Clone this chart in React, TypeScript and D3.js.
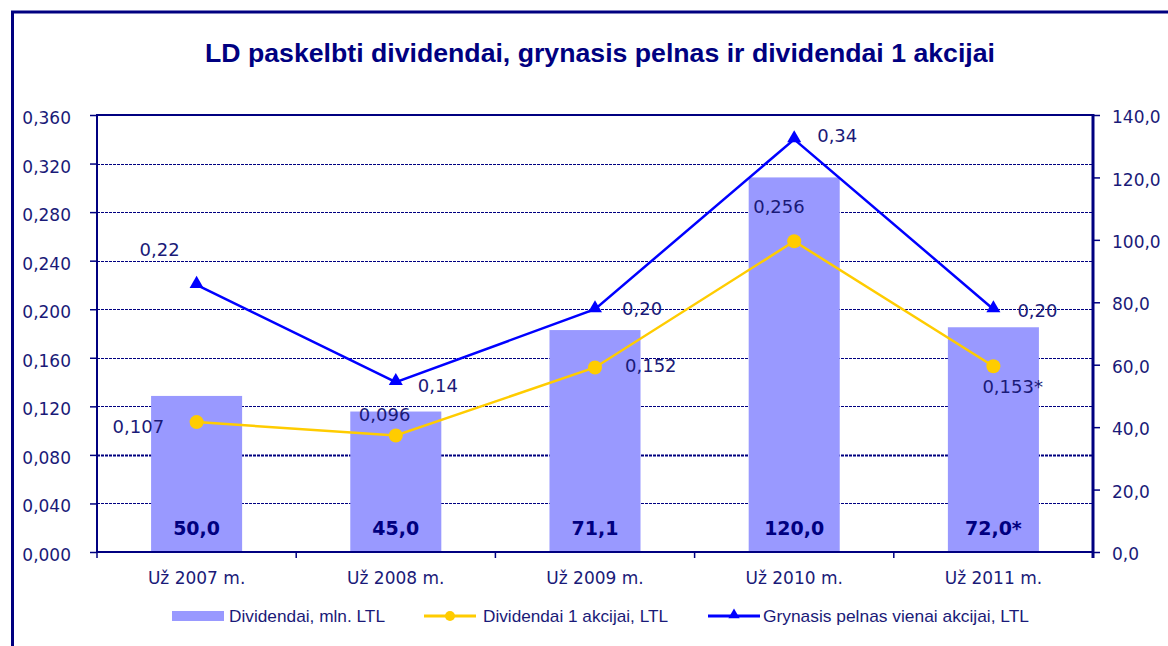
import React, { useEffect, useRef } from 'react';
import * as d3 from 'd3';

const categories = ['Už 2007 m.', 'Už 2008 m.', 'Už 2009 m.', 'Už 2010 m.', 'Už 2011 m.'];
const dividendsMln = [50.0, 45.0, 71.1, 120.0, 72.0];
const dividendsMlnLabels = ['50,0', '45,0', '71,1', '120,0', '72,0*'];
const dividendPerShare = [0.107, 0.096, 0.152, 0.256, 0.153];
const dividendPerShareLabels = ['0,107', '0,096', '0,152', '0,256', '0,153*'];
const profitPerShare = [0.22, 0.14, 0.2, 0.34, 0.2];
const profitPerShareLabels = ['0,22', '0,14', '0,20', '0,34', '0,20'];
const leftTicks = [0, 0.04, 0.08, 0.12, 0.16, 0.2, 0.24, 0.28, 0.32, 0.36];
const rightTicks = [0, 20, 40, 60, 80, 100, 120, 140];
const legendLabels = ['Dividendai, mln. LTL', 'Dividendai 1 akcijai, LTL', 'Grynasis pelnas vienai akcijai, LTL'];

const W = 1168;
const H = 646;
const NAVY = '#000080';
const TEXT = '#1a1a78';

const App = () => {
  const ref = useRef<SVGSVGElement>(null);

  useEffect(() => {
    const svg = d3.select(ref.current);
    svg.selectAll('*').remove();

    const left = 97, right = 1093, top = 115, bottom = 552;

    const x = d3.scaleBand().domain(categories).range([left, right]).paddingInner(0.543).paddingOuter(0.2715);
    const xc = (i: number) => (x(categories[i]) as number) + x.bandwidth() / 2;
    const yL = d3.scaleLinear().domain([0, 0.36]).range([bottom, top]);
    const yR = d3.scaleLinear().domain([0, 140]).range([bottom, top]);

    // outer frame (only top and left visible)
    svg.append('rect').attr('x', 12.5).attr('y', 12).attr('width', W).attr('height', H)
      .attr('fill', 'none').attr('stroke', NAVY).attr('stroke-width', 3);

    svg.append('text').attr('x', 600).attr('y', 62).attr('text-anchor', 'middle')
      .attr('font-family', 'Liberation Sans, Arial, sans-serif').attr('font-weight', 'bold')
      .attr('font-size', 25).attr('fill', NAVY)
      .attr('textLength', 790).attr('lengthAdjust', 'spacingAndGlyphs')
      .text('LD paskelbti dividendai, grynasis pelnas ir dividendai 1 akcijai');

    // gridlines
    svg.append('g').selectAll('line').data(leftTicks.slice(1, -1)).enter().append('line')
      .attr('x1', left).attr('x2', right)
      .attr('y1', d => Math.round(yL(d)) + 0.5).attr('y2', d => Math.round(yL(d)) + 0.5)
      .attr('stroke', NAVY).attr('stroke-width', (d, i) => (i === 1 ? 2 : 1))
      .attr('stroke-dasharray', '3,1');

    // bars
    svg.append('g').selectAll('rect').data(dividendsMln).enter().append('rect')
      .attr('x', (d, i) => x(categories[i]) as number)
      .attr('width', x.bandwidth())
      .attr('y', d => yR(d)).attr('height', d => bottom - yR(d))
      .attr('fill', '#9999FF');

    // plot border
    svg.append('rect').attr('x', left).attr('y', top).attr('width', right - left).attr('height', bottom - top)
      .attr('fill', 'none').attr('stroke', NAVY).attr('stroke-width', 2);

    const tickFont = 'DejaVu Sans, Verdana, sans-serif';

    // left axis
    const la = svg.append('g').attr('transform', `translate(${left},0)`)
      .call(d3.axisLeft(yL).tickValues(leftTicks).tickSize(7).tickPadding(19)
        .tickFormat(d => d3.format('.3f')(d as number).replace('.', ',')));
    la.select('.domain').remove();
    la.selectAll('line').attr('stroke', NAVY).attr('stroke-width', 1.5);
    la.selectAll('text').attr('fill', TEXT).attr('font-size', 17)
      .attr('font-family', tickFont).attr('dy', '0.5em');

    // right axis
    const ra = svg.append('g').attr('transform', `translate(${right},0)`)
      .call(d3.axisRight(yR).tickValues(rightTicks).tickSize(7).tickPadding(12)
        .tickFormat(d => d3.format('.1f')(d as number).replace('.', ',')));
    ra.select('.domain').remove();
    ra.selectAll('line').attr('stroke', NAVY).attr('stroke-width', 1.5);
    ra.selectAll('text').attr('fill', TEXT).attr('font-size', 17)
      .attr('font-family', tickFont).attr('dy', '0.45em');
    svg.append('line').attr('x1', right).attr('x2', right).attr('y1', top - 1).attr('y2', bottom + 6)
      .attr('stroke', NAVY).attr('stroke-width', 3);

    // bottom axis ticks between categories
    const xa = svg.append('g').attr('transform', `translate(0,${bottom})`);
    xa.selectAll('line').data(d3.range(categories.length + 1)).enter().append('line')
      .attr('x1', i => left + i * (right - left) / categories.length)
      .attr('x2', i => left + i * (right - left) / categories.length)
      .attr('y1', 0).attr('y2', 6).attr('stroke', NAVY).attr('stroke-width', 1.5);
    xa.selectAll('text').data(categories).enter().append('text')
      .attr('x', (d, i) => xc(i)).attr('y', 32).attr('text-anchor', 'middle')
      .attr('font-family', tickFont).attr('font-size', 17).attr('fill', TEXT)
      .text(d => d);

    // bar labels
    svg.append('g').selectAll('text').data(dividendsMlnLabels).enter().append('text')
      .attr('x', (d, i) => xc(i)).attr('y', 535).attr('text-anchor', 'middle')
      .attr('font-family', tickFont).attr('font-weight', 'bold')
      .attr('font-size', 19).attr('fill', NAVY).text(d => d);

    // lines
    const lineL = d3.line<number>().x((d, i) => xc(i)).y(d => yL(d));
    svg.append('path').attr('d', lineL(dividendPerShare)).attr('fill', 'none')
      .attr('stroke', '#FFCC00').attr('stroke-width', 2.5);
    svg.append('path').attr('d', lineL(profitPerShare)).attr('fill', 'none')
      .attr('stroke', '#0000FF').attr('stroke-width', 2.5);

    svg.append('g').selectAll('circle').data(dividendPerShare).enter().append('circle')
      .attr('cx', (d, i) => xc(i)).attr('cy', d => yL(d)).attr('r', 7).attr('fill', '#FFCC00');

    const tri = d3.symbol().type(d3.symbolTriangle).size(85);
    svg.append('g').selectAll('path').data(profitPerShare).enter().append('path')
      .attr('d', tri).attr('transform', (d, i) => `translate(${xc(i)},${yL(d) - 1})`).attr('fill', '#0000FF');

    // point labels: [dx, dy] from the point, text-anchor start
    const yellowOff = [[-84, 11], [-37, -14], [30, 5], [-41, -28], [-11, 27]];
    const blueOff = [[-57, -29], [22, 10], [27, 6], [23, 3], [24, 8]];
    svg.append('g').selectAll('text').data(dividendPerShareLabels).enter().append('text')
      .attr('x', (d, i) => xc(i) + yellowOff[i][0]).attr('y', (d, i) => yL(dividendPerShare[i]) + yellowOff[i][1])
      .attr('font-family', tickFont).attr('font-size', 18).attr('fill', TEXT).text(d => d);
    svg.append('g').selectAll('text').data(profitPerShareLabels).enter().append('text')
      .attr('x', (d, i) => xc(i) + blueOff[i][0]).attr('y', (d, i) => yL(profitPerShare[i]) + blueOff[i][1])
      .attr('font-family', tickFont).attr('font-size', 18).attr('fill', TEXT).text(d => d);

    // legend
    const lg = svg.append('g').attr('font-family', 'Liberation Sans, Arial, sans-serif')
      .attr('font-size', 17).attr('fill', TEXT);
    lg.append('rect').attr('x', 172).attr('y', 611).attr('width', 52).attr('height', 10).attr('fill', '#9999FF');
    lg.append('text').attr('x', 229).attr('y', 622).attr('textLength', 156).attr('lengthAdjust', 'spacingAndGlyphs')
      .text(legendLabels[0]);
    lg.append('line').attr('x1', 424).attr('x2', 476).attr('y1', 616).attr('y2', 616)
      .attr('stroke', '#FFCC00').attr('stroke-width', 3);
    lg.append('circle').attr('cx', 450).attr('cy', 616).attr('r', 5).attr('fill', '#FFCC00');
    lg.append('text').attr('x', 483).attr('y', 622).attr('textLength', 185).attr('lengthAdjust', 'spacingAndGlyphs')
      .text(legendLabels[1]);
    lg.append('line').attr('x1', 708).attr('x2', 760).attr('y1', 616).attr('y2', 616)
      .attr('stroke', '#0000FF').attr('stroke-width', 3);
    lg.append('path').attr('d', d3.symbol().type(d3.symbolTriangle).size(55)).attr('transform', 'translate(734,615)')
      .attr('fill', '#0000FF');
    lg.append('text').attr('x', 763).attr('y', 622).attr('textLength', 266).attr('lengthAdjust', 'spacingAndGlyphs')
      .text(legendLabels[2]);
  }, []);

  return (
    <svg ref={ref} width={W} height={H} style={{ position: 'absolute', left: 0, top: 0, background: '#fff' }} />
  );
};

export default App;
